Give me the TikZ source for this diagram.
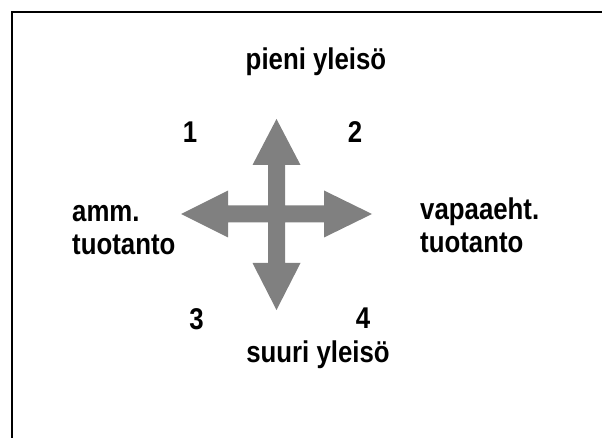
\documentclass[tikz,border=0pt]{standalone}
\usepackage{fontspec}
\setmainfont{Liberation Sans}
\newfontfamily\labfont[FakeStretch=0.86]{Liberation Sans Bold}
\definecolor{arrowgray}{RGB}{128,128,128}
\begin{document}
\begin{tikzpicture}[x=1pt,y=-1pt,
  lab/.style={inner sep=0pt,anchor=base,font=\labfont\fontsize{30}{33}\selectfont},
  labl/.style={inner sep=0pt,anchor=base west,align=left,font=\labfont\fontsize{30}{33}\selectfont},
  frame/.style={line width=2pt,black}]
\useasboundingbox (0,0) rectangle (602,438);
% frame (only top and left edges are visible)
\draw[frame] (11.5,438) -- (11.5,12.5) -- (602,12.5);
% four-way arrow
\fill[arrowgray] (268,165) -- (252.5,165) -- (276.5,119) -- (300.5,165) -- (285,165)
  -- (285,205.5) -- (324,205.5) -- (324,190.5) -- (372,214) -- (324,237.5) -- (324,222.5)
  -- (285,222.5) -- (285,263) -- (300.5,263) -- (276.5,310) -- (252.5,263) -- (268,263)
  -- (268,222.5) -- (228,222.5) -- (228,237.5) -- (181,214) -- (228,190.5) -- (228,205.5)
  -- (268,205.5) -- cycle;
% labels
\node[lab] (top) at (316,70) {pieni yleisö};
\node[lab] (bottom) at (318,362) {suuri yleisö};
\node[labl] (left) at (72,254.5) {amm.\\tuotanto};
\node[labl] (right) at (420,253) {vapaaeht.\\tuotanto};
\node[lab] (n1) at (190,143) {1};
\node[lab] (n2) at (355,143) {2};
\node[lab] (n3) at (196.5,329) {3};
\node[lab] (n4) at (363,328) {4};
\end{tikzpicture}
\end{document}
